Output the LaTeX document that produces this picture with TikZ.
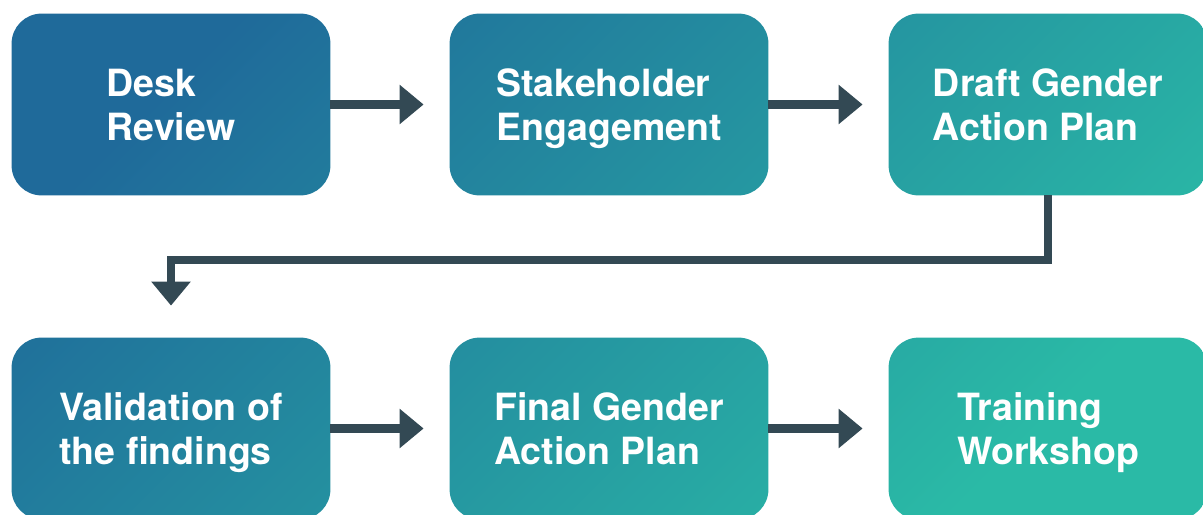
\documentclass[tikz,border=0pt]{standalone}
\usepackage{fontspec}
\setmainfont{TeX Gyre Heros}
\usetikzlibrary{arrows.meta,backgrounds}

\definecolor{flowdark}{RGB}{51,73,84}
\definecolor{stepblue}{RGB}{31,106,154}
\definecolor{stepteal}{RGB}{42,186,166}

\tikzset{
  stepbox/.style={minimum width=159pt,minimum height=90.5pt,inner sep=0pt,
    align=left,text=white,font=\fontsize{18.75}{22}\selectfont\bfseries,
    text height=40pt,text depth=4.5pt},
  flow/.style={draw=flowdark,line width=4.3pt,
    -{Triangle[length=12pt,width=19pt]},shorten >=13pt}
}

\begin{document}
\begin{tikzpicture}[x=0.5pt,y=-0.5pt]
    \useasboundingbox (0,0) rectangle (1203,514);
    % Top row
    \node[stepbox] (desk) at (171,104.5) {Desk\\Review};
    \node[stepbox] (stake) at (609,104.5) {Stakeholder\\Engagement};
    \node[stepbox] (draft) at (1048,104.5) {Draft Gender\\Action Plan};
    % Bottom row
    \node[stepbox] (valid) at (171,428.5) {Validation of\\the findings};
    \node[stepbox] (final) at (609,428.5) {Final Gender\\Action Plan};
    \node[stepbox] (train) at (1048,428.5) {Training\\Workshop};
    % one gradient for all boxes
    \begin{scope}[on background layer]
        \clip[rounded corners=15pt]
            (desk.south west) rectangle (desk.north east)
            (stake.south west) rectangle (stake.north east)
            (draft.south west) rectangle (draft.north east)
            (valid.south west) rectangle (valid.north east)
            (final.south west) rectangle (final.north east)
            (train.south west) rectangle (train.north east);
        \shade[left color=stepblue,right color=stepteal,shading angle=45]
            (0,0) rectangle (1203,520);
    \end{scope}
    % Arrows
    \draw[flow] (desk) -- (stake);
    \draw[flow] (stake) -- (draft);
    \draw[flow] (valid) -- (final);
    \draw[flow] (final) -- (train);
    \coordinate (turn) at (1048,260);
    \draw[flow,shorten >=16pt,line join=miter] (draft.south) -- (turn) -| (valid.north);
\end{tikzpicture}
\end{document}
